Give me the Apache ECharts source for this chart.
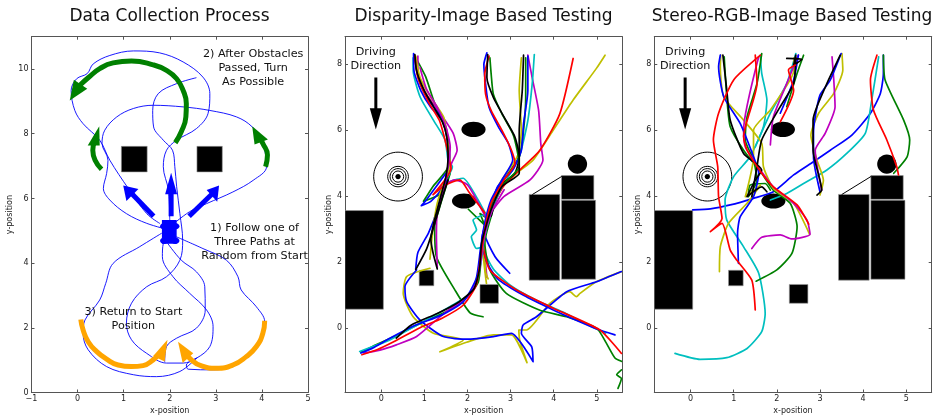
<!DOCTYPE html>
<html><head><meta charset="utf-8">
<style>html,body{margin:0;padding:0;background:#fff}#c{width:936px;height:416px}</style>
<script src="https://cdn.jsdelivr.net/npm/echarts@6/dist/echarts.min.js"></script>
</head><body><div id="c"></div>
<script>
const titles = ["Data Collection Process", "Disparity-Image Based Testing", "Stereo-RGB-Image Based Testing"];
const C = {b:"#0000ff", g:"#008000", r:"#ff0000", c:"#00bfbf", m:"#bf00bf", y:"#bfbf00", k:"#000000"};

// Panel 1 driving traces
const collectionTraces = [
 [[2.57,9.73],[2.15,9.55],[1.75,9.24],[1.63,8.72],[1.65,8.21],[1.86,7.8],[2.06,7.49],[2.11,6.98],[2.15,6.36],[2.22,5.53],[2.28,4.71],[2.22,4.09],[1.93,3.58],[1.5,3.27],[1.17,2.76],[1.06,2.14],[1.17,1.63],[1.5,1.21],[1.93,.91],[2.29,.91],[2.58,1.06],[2.87,1.42],[2.94,2.04],[2.8,2.55],[2.43,3.07],[2.07,3.58],[1.84,4.2],[1.86,4.61],[2,4.92]],
 [[2,5.02],[1.5,5.23],[1.06,5.53],[.7,5.95],[.56,6.31],[.63,6.77],[.66,7.18],[.53,7.7],[.59,8.11],[.85,8.52],[1.21,8.78],[1.64,8.88],[2.29,8.83],[2.87,8.72],[3.45,8.52],[3.79,8.21],[4.02,7.7],[4.1,6.98],[3.81,6.56],[3.37,6.2],[2.8,5.84],[2.43,5.59],[2,5.12]],
 [[1.78,5.23],[1.5,5.53],[1.1,6.31],[.7,7.18],[.48,7.8],[.12,8.31],[-.06,8.72],[-.14,9.34],[-.02,9.7],[.21,9.86],[.34,10.16],[.7,10.42],[1.21,10.56],[1.78,10.5],[2.29,10.22],[2.72,9.75],[2.87,9.24],[2.83,8.62],[2.58,8.16],[2.15,7.8],[1.93,7.49],[1.86,6.98],[1.97,6.26],[2,5.33]],
 [[1.82,4.92],[1.35,4.51],[.77,3.99],[.61,3.37],[.48,2.86],[.16,2.24],[.12,1.83],[.23,1.32],[.63,.8],[1.21,.55],[1.71,.49],[2.22,.65],[2.58,1.06]],
 [[2.15,4.81],[2.72,4.45],[3.23,4.09],[3.48,3.58],[3.55,3.17],[3.88,2.65],[4.06,2.19],[4.02,1.73],[3.74,1.21],[3.37,.8],[2.94,.7],[2.4,.72],[2.36,.85],[2.58,1.06]],
 [[1.93,4.66],[2.25,4.09],[2.58,3.73],[2.76,3.27],[2.77,2.55],[2.58,1.99],[2.15,1.68],[1.93,1.42],[1.89,.96]]
];
// Panel 1 thick arrow shafts and heads: colour key, points
const collectionShafts = [
 ["b",[[1.65,5.45],[1.1,6.26]]],
 ["b",[[2.03,5.45],[2.03,6.41]]],
 ["b",[[2.42,5.45],[2.94,6.17]]],
 ["g",[[2.12,7.72],[2.25,8.06],[2.35,8.52],[2.36,8.93],[2.29,9.34],[2.15,9.7],[1.93,9.96],[1.64,10.13],[1.17,10.25],[.77,10.19],[.48,10.01],[.23,9.73],[.05,9.5]]],
 ["g",[[.52,6.9],[.38,7.18],[.33,7.49],[.38,7.8]]],
 ["g",[[4.08,6.98],[4.12,7.34],[4.02,7.7],[3.94,7.9]]],
 ["o",[[.07,2.26],[.12,1.93],[.23,1.57],[.41,1.27],[.63,1.03],[.88,.85],[1.17,.8],[1.42,.83],[1.64,1.01],[1.75,1.16]]],
 ["o",[[4.06,2.22],[4.02,1.83],[3.88,1.42],[3.66,1.11],[3.37,.85],[3.01,.75],[2.69,.82],[2.43,1.06],[2.33,1.27]]]
];
const collectionHeads = [
 ["b",[[.99,6.4],[1.32,6.29],[1.06,5.92]]],
 ["b",[[2.03,6.79],[1.9,6.13],[2.16,6.13]]],
 ["b",[[3.07,6.4],[2.8,6.26],[3.03,5.9]]],
 ["g",[[-.17,9.03],[-.08,9.67],[.21,9.39]]],
 ["g",[[.47,8.23],[.22,7.64],[.48,7.64]]],
 ["g",[[3.79,8.23],[4.13,7.82],[3.84,7.67]]],
 ["o",[[1.95,1.63],[1.64,1.13],[1.89,.96]]],
 ["o",[[2.18,1.57],[2.28,.91],[2.51,1.21]]]
];
const collectionRects = [[.95,6.82,1.51,7.61],[2.59,6.82,3.14,7.61],[1.83,4.6,2.15,5.33]];
const collectionEllipses = [[1.88,5.14,.09,.1],[2.12,5.14,.09,.1],[1.88,4.69,.09,.1],[2.12,4.69,.09,.1]];
const collectionNotes = [
 ["2) After Obstacles\nPassed, Turn\nAs Possible",3.81,10.03],
 ["1) Follow one of\nThree Paths at\nRandom from Start",3.84,4.64],
 ["3) Return to Start\nPosition",1.21,2.28]
];

// Panels 2, 3 shared scene
const sceneRects = [[-.84,.58,.05,3.57],[.88,1.29,1.22,1.76],[2.29,.76,2.72,1.33],[3.43,1.46,4.14,4.06],[4.18,1.49,4.97,3.88],[4.18,3.91,4.93,4.63]];
const sceneEllipses = [[2.14,6.03,.28,.23],[1.92,3.86,.28,.23],[4.55,4.98,.224,.293],[.39,4.6,.062,.081]];
const sceneRings = [[.39,4.6,.565,.74],[.39,4.6,.24,.31],[.39,4.6,.185,.242],[.39,4.6,.13,.17]];
const sceneLink = [[3.51,4.06],[4.18,4.6]];
const driveShaft = [[-.125,7.6],[-.125,6.52]];
const driveHead = [[-.125,6.03],[-.265,6.67],[.015,6.67]];
const driveNote = ["Driving\nDirection",-.125,8.16];

const disparityPaths = [
 ["y",[[5.57,1.72],[4.99,1.41],[4.61,1.06],[4.53,.96],[4.37,1.11],[3.91,.76],[3.37,-.05],[3.19,-.05],[3.21,-.35],[3.38,-1.04],[3.02,-.2],[2.6,-.2],[1.98,-.42],[1.36,-.71],[1.9,-.35],[1.21,-.15],[.74,.35],[.51,1.06],[.59,1.57],[1.13,1.82]]],
 ["b",[[5.57,1.72],[4.99,1.41],[4.3,1.11],[3.6,.35],[3.29,.1],[3.25,-.15],[3.49,-.56],[3.52,-1.01],[3.02,-.15],[2.6,-.25],[1.98,-.33],[1.44,-.25],[.9,.25],[.59,.81],[.55,1.26],[.82,1.77]]],
 ["g",[[5.57,-1.26],[5.46,-1.41],[5.57,-1.52],[5.49,-1.82]]],
 ["g",[[1.6,4.7],[1.36,3.69],[1.24,3.08],[1.28,2.17],[1.71,1.16],[2.06,.47],[2.36,.35]]],
 ["g",[[2.02,3.61],[2.4,3.13],[2.29,3.48],[2.5,3.3]]],
 ["c",[[2.48,3.48],[2.13,3.28],[2.21,2.98],[2.09,2.78],[2.21,2.42],[2.36,2.47]]],
 ["b",[[2.98,1.67],[2.64,2.17],[2.4,2.88],[2.56,3.59]]],
 // upper-left start
 ["g",[[.8,8.2],[1.03,7.63],[1.24,6.82],[1.5,6.1],[1.56,5.5],[1.55,4.9],[1.2,4.3],[.98,3.85],[1.4,4.1],[1.58,4.85]]],
 ["c",[[.74,8.2],[.74,7.83],[.9,7.02],[1.21,6.31],[1.48,5.71],[1.55,5.1],[1.65,4.9],[1.3,4.15],[1.6,4.45],[1.9,4.55],[2.2,4],[2.45,3.4]]],
 ["m",[[.85,8.25],[.85,7.7],[1.05,7.1],[1.4,6.46],[1.67,5.91],[1.76,5.4],[1.63,5],[1.5,4.5],[1.4,4.3],[1.7,4.5],[2,4.35],[2.25,3.8],[2.45,3.3]]],
 ["b",[[.75,8.33],[.76,7.8],[.92,7.2],[1.15,6.7],[1.42,6.3],[1.55,5.6],[1.6,5],[1.45,4.3],[1.15,3.85],[.93,3.72],[1.05,3.9],[1.5,4.7]]],
 ["b",[[.76,8.3],[.88,7.5],[1.08,6.95],[1.38,6.4],[1.55,5.7],[1.55,4.9],[1.3,3.6],[1.1,2.9],[.85,2.3],[.8,1.8]]],
 ["y",[[.8,8.25],[.9,7.6],[1.15,7],[1.45,6.4],[1.55,5.6],[1.6,4.95],[1.45,4.4],[1.3,3.8],[1.2,3],[1.13,2.1]]],
 ["r",[[.78,8.25],[.85,7.6],[1.1,6.85],[1.35,6.3],[1.5,5.6],[1.58,5.1],[1.62,4.85],[1.2,4.05],[1.5,4.35],[1.82,4.5],[2.05,4.1],[2.4,3.5]]],
 ["m",[[.9,7.9],[1.05,7.25],[1.3,6.7],[1.5,6.1],[1.6,5.5],[1.55,4.9],[1.42,4.1],[1.3,3.5],[1.28,2.8],[1.3,1.85]]],
 ["k",[[.8,1.78],[1.05,2.4],[1.2,3],[1.4,3.9],[1.55,4.5]]],
 ["k",[[.78,8.3],[.82,7.8],[1,7.2],[1.2,6.75],[1.42,6.25],[1.52,5.8],[1.55,5.2],[1.5,4.6],[1.38,4],[1.3,3.6],[1.22,3.2],[1.15,2.7],[1.2,2.3],[1.3,1.8]]],
 // upper-right start, ending bottom-right
 ["y",[[5.19,8.28],[4.99,7.88],[4.45,6.92],[3.99,6.01],[3.52,5.1],[3.14,4.7],[2.67,4.09],[2.44,3.38],[2.36,2.37],[2.44,1.36]]],
 ["m",[[3.4,8.28],[3.5,7.6],[3.65,6.6],[3.7,5.6],[3.75,5.1],[3.45,4.5],[2.85,4],[2.55,3.5],[2.35,2.7],[2.4,2.2],[2.45,1.55]]],
 ["c",[[3.55,8.3],[3.5,7.4],[3.4,6.3],[3.2,5.2],[2.9,4.5],[2.65,4.1],[2.45,3.2],[2.35,2.5],[2.6,1.8],[3,1.3],[3.6,.85],[4.2,.5],[4.8,.1],[5.2,-.15]]],
 ["y",[[3.25,8.2],[3.2,7.2],[3.25,6],[3.15,5.2],[2.75,4.4],[2.5,3.5],[2.4,2.5],[2.42,1.7],[2.48,1.5]]],
 ["g",[[3.35,8.2],[3.35,7],[3.3,6],[3.2,5.2],[2.8,4.4],[2.55,3.4],[2.4,2.6],[2.52,1.77],[2.9,1.06],[3.68,.55],[4.3,.35],[5,0],[5.22,-.45],[5.42,-.9],[5.57,-1]]],
 ["b",[[3.4,8.25],[3.4,7.2],[3.3,6.2],[3.25,5.4],[3.05,4.8],[2.7,4.3],[2.5,3.5],[2.33,2.7],[2.45,2],[2.7,1.5],[3.3,1],[4,.55],[4.6,.2],[5,-.02],[5.42,-.2]]],
 ["r",[[4.45,8.18],[4.14,6.5],[3.68,5.4],[3.21,4.8],[2.83,4.3],[2.52,3.5],[2.36,2.58],[2.52,1.77],[3.14,1.16],[3.99,.61],[5.07,-.05],[5.57,-.76]]],
 ["k",[[3.3,8.28],[3.27,7.2],[3.2,6],[3.2,5.2],[3.1,4.7],[2.75,4.3],[2.55,3.4]]],
 // upper-middle start, ending bottom-left
 ["g",[[2.52,8.2],[2.55,7.7],[2.6,7.1],[2.8,6.5],[3.05,5.9],[3.15,5.4],[3.2,4.9],[2.85,4.4],[2.6,3.9],[2.4,3.1],[2.32,2.2],[2.25,1.4],[1.95,.9],[1.5,.5],[.9,.15],[.3,-.25],[-.2,-.55],[-.47,-.72]]],
 ["c",[[2.8,4.3],[2.6,3.7],[2.4,2.8],[2.3,1.9],[2.1,1.1],[1.6,.66],[.9,.15],[.2,-.35],[-.5,-.7]]],
 ["m",[[2.85,4.2],[2.55,3.5],[2.38,2.7],[2.28,1.8],[2.05,1],[1.5,.5],[.82,-.25],[.35,-.5],[-.03,-.66],[-.4,-.75]]],
 ["b",[[2.45,8.35],[2.38,8],[2.42,7.4],[2.5,6.7],[2.72,6.1],[2.95,5.6],[3.05,5.1],[2.8,4.5],[2.55,3.9],[2.4,3.2],[2.3,2.4],[2.2,1.5],[1.9,.8],[1.4,.4],[.8,.1],[.2,-.3],[-.2,-.6],[-.47,-.75]]],
 ["r",[[2.5,8.25],[2.4,7.7],[2.42,7.1],[2.55,6.6],[2.8,6],[3.02,5.4],[3.1,5],[2.85,4.5],[2.55,3.8],[2.4,3],[2.3,2.1],[2.2,1.3],[1.9,.7],[1.4,.3],[.9,.02],[.3,-.4],[-.1,-.65],[-.45,-.8]]],
 ["k",[[2.47,8.3],[2.45,7.6],[2.6,7],[2.85,6.4],[3.1,5.8],[3.2,5.2],[3.2,4.7],[2.8,4.3],[2.55,3.6],[2.33,2.6],[2.28,1.8],[2.15,1.2],[1.8,.8],[1.3,.45],[.7,.1],[.35,-.3]]]
];

const stereoPaths = [
 ["b",[[.05,3.59],[.46,3.62],[.92,3.74],[1.46,3.94],[1.92,4.14],[2.39,4.65],[2.85,5.05],[3.24,5.4],[3.74,5.86],[4.17,6.52],[4.4,7.12],[4.47,7.73],[4.47,8.28]]],
 ["c",[[-.36,-.76],[.22,-.94],[.84,-.89],[1.31,-.61],[1.65,-.1],[1.73,.45],[1.58,1.67],[1.23,2.47],[.84,3.28],[.8,3.89],[1,4.6],[1.38,5.2],[1.69,6.11],[1.77,6.92],[1.65,7.73],[1.62,8.28]]],
 ["c",[[4.36,8.23],[4.2,6.92],[4.05,5.91],[3.62,5.3],[3.16,4.8],[2.62,4.39],[2.23,4.09],[1.85,3.89]]],
 ["c",[[2.44,8.33],[2.23,7.42],[1.85,6.52],[1.5,5.5]]],
 ["g",[[4.47,8.28],[4.51,7.53],[4.94,6.31],[5.08,5.71],[5.02,5.2],[4.71,4.7]]],
 ["g",[[1.52,1.43],[2,1.77],[2.35,2.27],[2.47,3.08],[2.31,3.79],[1.92,4.19],[1.65,4.7],[1.23,5.4],[.92,6.11],[.84,7.02],[.78,8.23]]],
 ["g",[[1.65,8.33],[1.54,7.42],[1.31,6.41],[1.27,5.71],[1.46,5.1],[1.54,4.49],[1.34,3.99],[1.38,4.34],[1.73,4.39],[1.85,4.19]]],
 ["g",[[2.62,8.28],[2.47,7.73],[2.23,6.72]]],
 ["y",[[.67,1.72],[.69,2.47],[.88,3.18],[1.31,3.79],[1.62,4.34],[1.27,3.99],[1.46,5.2],[1.46,6.01],[1.85,6.62],[2.39,7.78],[2.4,8.2]]],
 ["y",[[2.76,2.85],[2.39,3.79],[1.92,4.24],[1.69,4.9],[1.65,5.61],[1.23,6.31],[.77,7.02],[.69,7.93],[.7,8.28]]],
 ["y",[[3.51,8.33],[3.53,7.83],[3.32,7.12],[2.97,6.52],[2.79,5.86],[2.93,5.1],[3.08,4.49],[3,4.04]]],
 ["m",[[1.42,2.42],[1.65,2.76],[2.08,2.83],[2.35,2.71],[2.77,2.85],[2.7,3.28],[2.39,3.79],[1.92,4.29],[1.62,4.8],[1.27,5.5],[1.23,6.01],[1.58,8.23]]],
 ["m",[[1.85,5.56],[1.92,6.41],[2.23,7.42],[2.5,8.28]]],
 ["m",[[3.28,8.23],[3.32,7.53],[3.35,6.72],[3.12,5.91],[2.89,5.4],[3.04,4.19]]],
 ["b",[[.69,8.28],[.65,7.93],[.77,7.02],[1.15,6.21],[1.46,5.2],[1.58,4.7],[1.46,3.99],[1.15,3.38],[1.09,2.88],[1.11,1.97]]],
 ["b",[[2.5,8.28],[2.39,7.53],[2.08,6.52]]],
 ["b",[[3.49,8.33],[3.24,7.53],[3,7.07],[2.89,6.41],[2.85,5.91],[2.85,5.2],[3,4.14]]],
 ["k",[[3.47,8.28],[3.16,7.42],[2.93,6.72],[2.84,6.31],[2.84,5.4],[3.04,4.19],[2.93,4.04]]],
 ["k",[[.75,8.28],[.84,7.22],[.92,6.31],[1.23,5.3],[1.65,4.8],[1.5,4.49],[1.31,3.99],[1.65,4.29],[1.77,4.14]]],
 ["k",[[2.23,8.18],[2.58,8.15],[2.39,7.98],[2.44,8.28],[2.39,7.42],[2.08,6.72],[1.65,5.71],[1.54,4.9],[1.42,3.99]]],
 ["r",[[1.5,.56],[1.42,1.46],[1.07,2.07],[.92,2.37],[.73,3.18],[.46,2.93],[.73,3.33],[.65,3.99],[.63,4.9],[.53,5.71],[.65,6.52],[1,7.53],[1.62,8.28]]],
 ["r",[[4.32,8.28],[4.17,7.53],[4.24,6.62],[4.55,5.71],[4.78,4.9],[4.82,4.65]]],
 ["r",[[2.74,3.16],[2.47,3.74],[1.92,4.29],[1.65,4.7],[1.31,5.4],[1.23,5.81],[1.54,7.42],[1.5,8.28]]],
 ["r",[[2.08,6.26],[2.39,7.22],[2.27,7.83],[2.43,7.98]]]
];

const font = '"DejaVu Sans"';
const grids = [
 {left:31.5,width:276.5,top:36.7,height:355.8,outerBoundsMode:"none"},
 {left:345,width:277.3,top:36.7,height:355.8,outerBoundsMode:"none"},
 {left:654.3,width:277.4,top:36.7,height:355.8,outerBoundsMode:"none"}
];
const ranges = [
 {x:[-1,5],y:[0,11],xt:[-1,0,1,2,3,4,5],yt:[0,2,4,6,8,10],gap:14},
 {x:[-.84,5.59],y:[-1.945,8.84],xt:[0,1,2,3,4,5],yt:[0,2,4,6,8],gap:9},
 {x:[-.84,5.59],y:[-1.945,8.84],xt:[0,1,2,3,4,5],yt:[0,2,4,6,8],gap:9}
];
const lineCol = "#555";
const fmt = v => String(v).replace("-", "\u2212");
const xAxis = [], yAxis = [];
ranges.forEach((r, i) => {
 const xt = r.xt, yt = r.yt;
 [false, true].forEach(mirror => {
  xAxis.push({type:"value",gridIndex:i,min:r.x[0],max:r.x[1],position:mirror?"top":"bottom",
   name:mirror?"":"x-position",nameLocation:"middle",nameGap:11,nameTextStyle:{fontFamily:font,fontSize:8,color:"#222"},
   axisLine:{show:true,onZero:false,lineStyle:{color:lineCol,width:1}},
   axisTick:{show:true,inside:true,length:3,customValues:xt,lineStyle:{color:lineCol}},
   axisLabel:{show:!mirror,customValues:xt,margin:2,fontFamily:font,fontSize:8,color:"#222",formatter:fmt},
   splitLine:{show:false}});
  yAxis.push({type:"value",gridIndex:i,min:r.y[0],max:r.y[1],position:mirror?"right":"left",
   name:mirror?"":"y-position",nameLocation:"middle",nameGap:r.gap,nameTextStyle:{fontFamily:font,fontSize:8,color:"#222"},
   axisLine:{show:true,onZero:false,lineStyle:{color:lineCol,width:1}},
   axisTick:{show:true,inside:true,length:3,customValues:yt,lineStyle:{color:lineCol}},
   axisLabel:{show:!mirror,customValues:yt,margin:3,fontFamily:font,fontSize:8,color:"#222",formatter:fmt},
   splitLine:{show:false}});
 });
});
const axesOf = i => ({xAxisIndex:i*2,yAxisIndex:i*2});

function lineSeries(i, pts, color, width, smooth, cap){
 return {type:"line",...axesOf(i),data:pts,showSymbol:false,symbol:"none",smooth:smooth,silent:true,
  lineStyle:{color:color,width:width,cap:cap||"round",join:"round"},clip:true,animation:false};
}
function customSeries(i, rows, render, z, clip){
 return {type:"custom",...axesOf(i),data:rows.map((_,k)=>[k]),encode:{x:-1,y:-1},clip:clip!==false,silent:true,z:z||3,animation:false,
  renderItem:(p,api)=>render(rows[p.dataIndex],api)};
}
const rectItem = (r,api) => {
 const a=api.coord([r[0],r[3]]),b=api.coord([r[2],r[1]]);
 return {type:"rect",shape:{x:a[0],y:a[1],width:b[0]-a[0],height:b[1]-a[1]},style:{fill:"#000",stroke:"#999",lineWidth:.6}};
};
const ellipseItem = stroke => (e,api) => {
 const c=api.coord([e[0],e[1]]),s=api.size([e[2],e[3]]);
 return {type:"ellipse",shape:{cx:c[0],cy:c[1],rx:s[0],ry:s[1]},style:stroke?{fill:"none",stroke:"#000",lineWidth:1}:{fill:"#000"}};
};
const polyItem = (colorOf) => (h,api) => ({type:"polygon",shape:{points:h[1].map(p=>api.coord(p))},style:{fill:colorOf(h[0])}});
const noteItem = (size) => (n,api) => {
 const c=api.coord([n[1],n[2]]);
 return {type:"text",z2:20,style:{text:n[0],x:c[0],y:c[1],align:"center",verticalAlign:"middle",fontFamily:font,fontSize:size,lineHeight:14,fill:"#111"}};
};
const arrowColor = k => ({b:C.b,g:C.g,o:"#ffa500",k:"#000"}[k]);

const series = [];
// panel 1
series.push(customSeries(0,collectionRects,(r,api)=>{const it=rectItem(r,api);it.style=(r[0]>1.7&&r[0]<2)?{fill:C.b}:it.style;return it;},3));
series.push(customSeries(0,collectionEllipses,(e,api)=>{const it=ellipseItem(false)(e,api);it.style={fill:C.b};return it;},3));
collectionTraces.forEach(t=>series.push(lineSeries(0,t,C.b,.9,.35)));
collectionShafts.forEach(s=>series.push(lineSeries(0,s[1],arrowColor(s[0]),5,.5,"butt")));
series.push(customSeries(0,collectionHeads,polyItem(arrowColor),4));
series.push(customSeries(0,collectionNotes,noteItem(11.2),6,false));
// panels 2, 3
[[1,disparityPaths],[2,stereoPaths]].forEach(([i,paths])=>{
 series.push(customSeries(i,sceneRects,rectItem,2));
 series.push(customSeries(i,sceneEllipses,ellipseItem(false),2));
 series.push(customSeries(i,sceneRings,ellipseItem(true),2));
 series.push(lineSeries(i,sceneLink,"#000",1,false));
 paths.forEach(p=>series.push(lineSeries(i,p[1],C[p[0]],1.7,.2)));
 series.push(lineSeries(i,driveShaft,"#000",3,false,"butt"));
 series.push(customSeries(i,[["k",driveHead]],polyItem(arrowColor),4));
 series.push(customSeries(i,[driveNote],noteItem(11.2),6,false));
});

const chart = echarts.init(document.getElementById("c"),null,{renderer:"canvas",width:936,height:416});
chart.setOption({
 animation:false,backgroundColor:"#fff",
 title:titles.map((t,i)=>({text:t,left:[164.5,478.5,787][i],top:3,textAlign:"center",
  textStyle:{fontFamily:font,fontSize:17,fontWeight:"normal",color:"#111"}})),
 grid:grids,xAxis,yAxis,series
});
</script></body></html>
